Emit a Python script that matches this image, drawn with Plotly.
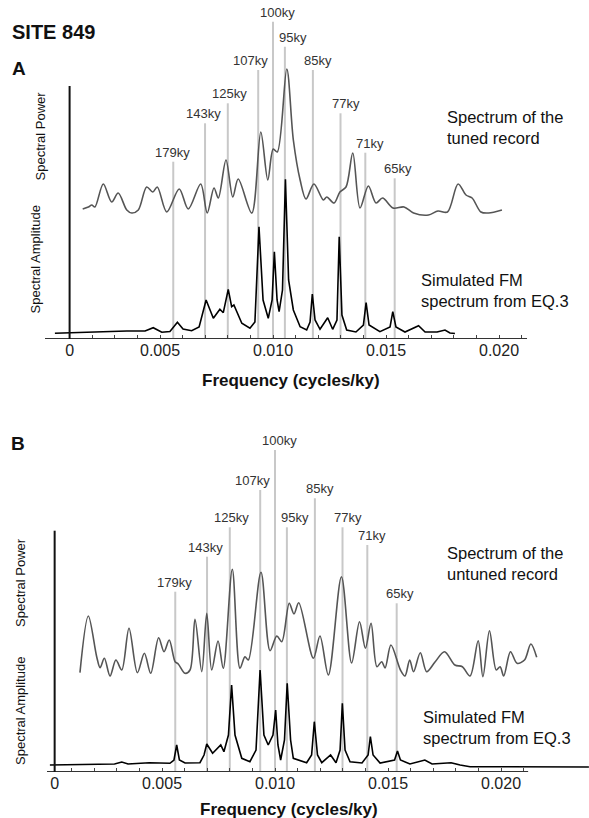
import plotly.graph_objects as go

W, H = 589, 818

# ---------------- data ----------------
periods = [179, 143, 125, 107, 100, 95, 85, 77, 71, 65]
period_labels = [f"{p}ky" for p in periods]
period_freq = [1.0 / p for p in periods]

# Panel A: spectrum of the tuned record (relative power)
a_tuned_freq = [0.00158, 0.00183, 0.00198, 0.00212, 0.00249, 0.00286, 0.00315, 0.00353, 0.00375, 0.00404,
                0.00441, 0.00468, 0.00488, 0.0053, 0.00585, 0.00625, 0.0068, 0.00709, 0.00739, 0.00758,
                0.00792, 0.00822, 0.00846, 0.00906, 0.00946, 0.00977, 0.01001, 0.01019, 0.01061, 0.0109,
                0.0112, 0.01146, 0.01181, 0.01223, 0.01238, 0.0127, 0.01296, 0.01323, 0.01353, 0.01385,
                0.01422, 0.01456, 0.01485, 0.01531, 0.0158, 0.01622, 0.01688, 0.0173, 0.01772, 0.01819,
                0.01854, 0.01881, 0.0192, 0.01954, 0.02013]
a_tuned_power = [1.30, 1.32, 1.34, 1.32, 1.55, 1.37, 1.46, 1.29, 1.26, 1.29,
                 1.52, 1.47, 1.52, 1.27, 1.50, 1.30, 1.55, 1.26, 1.51, 1.41,
                 1.79, 1.42, 1.60, 1.26, 2.07, 1.59, 1.90, 1.87, 2.70, 1.99,
                 1.59, 1.40, 1.55, 1.39, 1.42, 1.36, 1.47, 1.52, 1.86, 1.31,
                 1.53, 1.36, 1.41, 1.31, 1.32, 1.26, 1.24, 1.28, 1.27, 1.55,
                 1.44, 1.41, 1.27, 1.26, 1.29]

# Panel A: simulated FM spectrum (relative amplitude)
a_fm_freq = [0.00035, 0.0022, 0.00353, 0.00434, 0.0047, 0.00508, 0.00544, 0.00577, 0.00602, 0.0064,
             0.00673, 0.00704, 0.00736, 0.00765, 0.0078, 0.00802, 0.00817, 0.00827, 0.00862, 0.00898,
             0.0092, 0.00938, 0.00956, 0.00979, 0.00996, 0.01006, 0.01018, 0.01027, 0.01042, 0.01055,
             0.01069, 0.0109, 0.0112, 0.01149, 0.01164, 0.01174, 0.01186, 0.01208, 0.01242, 0.01264,
             0.01283, 0.01293, 0.01305, 0.01326, 0.01367, 0.014, 0.01412, 0.01425, 0.01473, 0.01518,
             0.0153, 0.01544, 0.01584, 0.01644, 0.01673, 0.01726, 0.01761, 0.01783, 0.01805]
a_fm_amp = [0.057, 0.073, 0.08, 0.08, 0.113, 0.067, 0.075, 0.167, 0.10, 0.083,
            0.12, 0.39, 0.207, 0.297, 0.263, 0.497, 0.323, 0.34, 0.157, 0.107,
            0.17, 1.123, 0.39, 0.207, 0.39, 0.873, 0.39, 0.273, 0.49, 1.597,
            0.59, 0.29, 0.123, 0.09, 0.17, 0.45, 0.19, 0.097, 0.213, 0.097,
            0.19, 1.023, 0.24, 0.09, 0.07, 0.14, 0.363, 0.14, 0.073, 0.12,
            0.273, 0.12, 0.07, 0.133, 0.07, 0.07, 0.09, 0.06, 0.055]

a_line_top = [1.773, 2.157, 2.357, 2.69, 3.173, 2.923, 2.69, 2.257, 1.863, 1.607]

# Panel B: spectrum of the untuned record
b_untuned_freq = [0.00137, 0.00174, 0.00211, 0.00226, 0.00245, 0.0027, 0.00296, 0.00322, 0.00354, 0.00391,
                  0.00422, 0.0045, 0.00485, 0.00509, 0.00532, 0.00558, 0.00572, 0.00602, 0.00624, 0.00646,
                  0.00676, 0.00698, 0.0072, 0.00748, 0.00771, 0.00811, 0.00845, 0.00867, 0.00882, 0.00938,
                  0.00978, 0.01008, 0.0103, 0.01063, 0.01084, 0.01105, 0.0117, 0.01199, 0.01236, 0.01294,
                  0.01339, 0.01374, 0.014, 0.01425, 0.01451, 0.01472, 0.01487, 0.01513, 0.01555, 0.01575,
                  0.01596, 0.01613, 0.01643, 0.01671, 0.01708, 0.0175, 0.01796, 0.01829, 0.01863, 0.01899,
                  0.0192, 0.01949, 0.01979, 0.01996, 0.02012, 0.02042, 0.02071, 0.02104, 0.02132, 0.02158]
b_untuned_power = [0.993, 1.56, 1.153, 1.043, 1.137, 0.96, 1.12, 1.02, 1.437, 0.993,
                   1.187, 0.987, 1.343, 1.203, 1.32, 1.103, 1.08, 0.987, 1.02, 1.527,
                   1.003, 1.587, 1.02, 1.31, 1.037, 2.027, 1.037, 1.153, 1.12, 1.997,
                   1.213, 1.36, 1.303, 1.687, 1.58, 1.693, 1.137, 1.36, 0.97, 1.953,
                   1.09, 1.503, 1.237, 1.487, 1.053, 1.103, 1.04, 1.27, 1.02, 0.96,
                   1.12, 1.003, 1.193, 1.003, 1.10, 1.203, 1.07, 1.053, 0.96, 1.313,
                   0.953, 1.413, 1.02, 1.053, 0.96, 1.203, 1.087, 1.12, 1.28, 1.147]

# Panel B: simulated FM spectrum
b_fm_freq = [0.00004, 0.00226, 0.0029, 0.00322, 0.0035, 0.00444, 0.00535, 0.00553, 0.00565, 0.00577,
             0.00602, 0.00668, 0.00686, 0.00698, 0.00724, 0.0076, 0.00774, 0.00794, 0.00808, 0.00823,
             0.00853, 0.00889, 0.00916, 0.00934, 0.00951, 0.0097, 0.00991, 0.01003, 0.01013, 0.01025,
             0.01042, 0.01054, 0.01069, 0.01081, 0.0114, 0.01162, 0.01174, 0.01188, 0.01207, 0.01246,
             0.0127, 0.01288, 0.01298, 0.0131, 0.01332, 0.01385, 0.01412, 0.01422, 0.01434, 0.01465,
             0.01529, 0.01542, 0.01555, 0.01597, 0.01663, 0.01695, 0.01779, 0.01819, 0.01863, 0.02389]
b_fm_amp = [0.07, 0.08, 0.08, 0.10, 0.08, 0.093, 0.087, 0.12, 0.27, 0.12,
            0.09, 0.093, 0.17, 0.28, 0.187, 0.27, 0.203, 0.37, 0.87, 0.37,
            0.137, 0.103, 0.22, 1.02, 0.37, 0.27, 0.37, 0.62, 0.27, 0.12,
            0.32, 0.887, 0.32, 0.137, 0.093, 0.17, 0.503, 0.17, 0.093, 0.17,
            0.093, 0.22, 0.687, 0.22, 0.103, 0.09, 0.17, 0.353, 0.17, 0.09,
            0.12, 0.21, 0.12, 0.08, 0.12, 0.08, 0.093, 0.07, 0.053, 0.05]

b_line_top = [1.803, 2.153, 2.447, 2.82, 3.22, 2.447, 2.737, 2.447, 2.27, 1.687]

tick_vals_a = [0.001 * k for k in range(1, 22)]
tick_vals_b = [0.00025] + [0.001 * k for k in range(1, 22)]
major_text = {1: "0", 5: "0.005", 10: "0.010", 15: "0.015", 20: "0.020"}
tick_text_a = [major_text.get(k, "") for k in range(1, 22)]
tick_text_b = ["0"] + [("" if k == 1 else major_text.get(k, "")) for k in range(1, 22)]

# ---------------- layout helpers ----------------
def py(p):  # pixel row -> paper y
    return 1 - p / H

def px(p):  # pixel column -> paper x
    return p / W

FONT = "Liberation Sans, Arial, Helvetica, sans-serif"
label_xshift = [-1, -2, 2, -8, 4, 8, 5, 5, 5, 3]

fig = go.Figure()

fig.add_trace(go.Scatter(x=a_tuned_freq, y=a_tuned_power, mode="lines", xaxis="x", yaxis="y",
                         line=dict(color="rgb(85,85,85)", width=1.6, shape="spline", smoothing=0.9),
                         showlegend=False, hoverinfo="skip"))
fig.add_trace(go.Scatter(x=a_fm_freq, y=a_fm_amp, mode="lines", xaxis="x", yaxis="y",
                         line=dict(color="black", width=1.6), showlegend=False, hoverinfo="skip"))
fig.add_trace(go.Scatter(x=b_untuned_freq, y=b_untuned_power, mode="lines", xaxis="x2", yaxis="y2",
                         line=dict(color="rgb(85,85,85)", width=1.6, shape="spline", smoothing=0.9),
                         showlegend=False, hoverinfo="skip"))
fig.add_trace(go.Scatter(x=b_fm_freq, y=b_fm_amp, mode="lines", xaxis="x2", yaxis="y2",
                         line=dict(color="black", width=1.6), showlegend=False, hoverinfo="skip"))

shapes = []
annotations = []
for xr, yr, tops in (("x", "y", a_line_top), ("x2", "y2", b_line_top)):
    for f, top, lab, sh in zip(period_freq, tops, period_labels, label_xshift):
        shapes.append(dict(type="line", xref=xr, yref=yr, x0=f, x1=f, y0=0, y1=top, layer="below",
                           line=dict(color="rgb(200,200,200)", width=2)))
        annotations.append(dict(xref=xr, yref=yr, x=f, y=top + 0.095, text=lab, showarrow=False,
                                xshift=sh, xanchor="center", yanchor="middle",
                                font=dict(family=FONT, size=13, color="#333")))

shapes += [
    dict(type="line", xref="x", yref="y", x0=-0.0000885, x1=0.02124, y0=0, y1=0,
         line=dict(color="#333", width=2)),
    dict(type="line", xref="x", yref="y", x0=0.001, x1=0.001, y0=0, y1=2.53,
         line=dict(color="#111", width=2)),
    dict(type="line", xref="x2", yref="y2", x0=-0.0000885, x1=0.0212, y0=0, y1=0,
         line=dict(color="#333", width=2)),
    dict(type="line", xref="x2", yref="y2", x0=0.00025, x1=0.00025, y0=0, y1=2.413,
         line=dict(color="#111", width=2)),
]

def txt(x, y, text, size, bold=False, anchor="left", angle=0, family=FONT):
    annotations.append(dict(xref="paper", yref="paper", x=px(x), y=py(y), text=text, showarrow=False,
                            xanchor=anchor, yanchor="middle", textangle=angle, align="left",
                            font=dict(family=family, size=size, color="#111",
                                      weight=("bold" if bold else "normal"))))

txt(10, 32, "SITE 849", 20, bold=True)
txt(10, 68, "A", 19, bold=True)
txt(9, 444, "B", 19, bold=True)
txt(39.5, 136, "Spectral Power", 13, anchor="center", angle=-90)
txt(34.5, 260, "Spectral Amplitude", 13, anchor="center", angle=-90)
txt(20, 583, "Spectral Power", 13, anchor="center", angle=-90)
txt(20, 711, "Spectral Amplitude", 13, anchor="center", angle=-90)
txt(445, 127, "Spectrum of the<br>tuned record", 16.5)
txt(419, 290, "Simulated FM<br>spectrum from EQ.3", 16.5)
txt(445, 563, "Spectrum of the<br>untuned record", 16.5)
txt(421, 727, "Simulated FM<br>spectrum from EQ.3", 16.5)
txt(291, 380, "Frequency (cycles/ky)", 17, bold=True, anchor="center")
txt(289, 809, "Frequency (cycles/ky)", 17, bold=True, anchor="center")

common_x = dict(showgrid=False, zeroline=False, showline=False, ticks="inside", ticklen=4,
                tickwidth=1.2, tickcolor="#444", tickmode="array",
                tickfont=dict(family=FONT, size=16, color="#222"), domain=[0, 1], fixedrange=True)
common_y = dict(visible=False, showgrid=False, zeroline=False, fixedrange=True)

fig.update_layout(
    width=W, height=H, autosize=False,
    margin=dict(l=0, r=0, t=0, b=0),
    paper_bgcolor="white", plot_bgcolor="white",
    xaxis=dict(common_x, range=[-47 / 22600, 542 / 22600], anchor="y",
               tickvals=tick_vals_a, ticktext=tick_text_a),
    yaxis=dict(common_y, range=[0, 3.39], domain=[py(339), 1], anchor="x"),
    xaxis2=dict(common_x, range=[-49 / 22600, 540 / 22600], anchor="y2",
                tickvals=tick_vals_b, ticktext=tick_text_b),
    yaxis2=dict(common_y, range=[0, 3.72], domain=[py(772), py(400)], anchor="x2"),
    shapes=shapes, annotations=annotations,
)

fig.write_html("out.html", config={"displayModeBar": False},
               post_script="document.body.style.margin='0';document.body.style.padding='0';"
                           "document.body.style.overflow='hidden';")
